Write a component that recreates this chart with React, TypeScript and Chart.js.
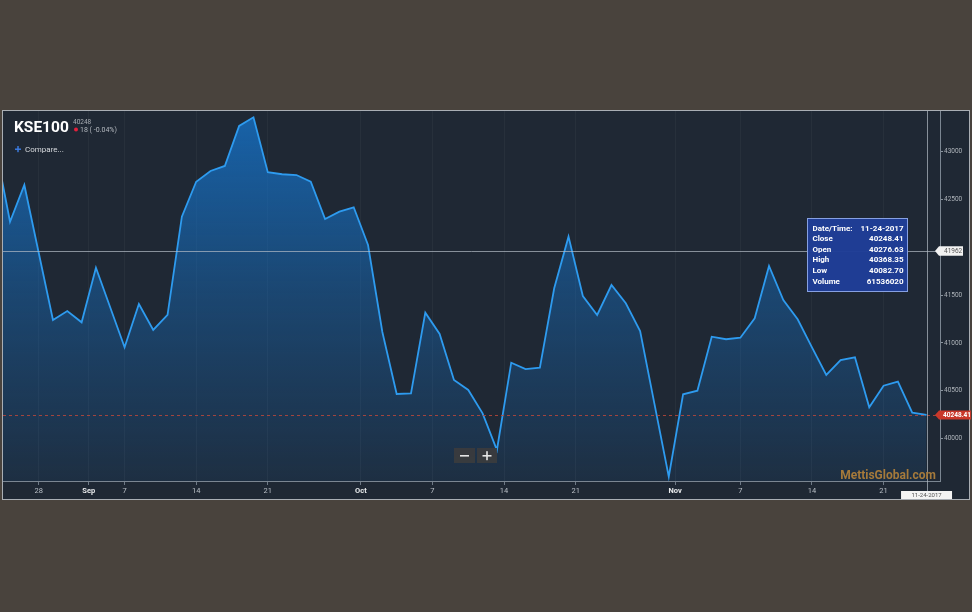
import React, { useEffect, useRef } from "react";
import { Chart, registerables } from "chart.js";

Chart.register(...registerables);

// KSE100 daily close, trading-day index -1 .. 64 (first point is partly outside the view)
const closeValues: number[] = [
  43040,
  42267, 42651, 41946, 41240, 41334, 41216, 41787, 41371, 40955, 41408,
  41136, 41293, 42320, 42685, 42797, 42850, 43268, 43358, 42784, 42763,
  42755, 42685, 42296, 42372, 42418, 42024, 41115, 40467, 40474, 41317,
  41094, 40613, 40509, 40265, 39882, 40794, 40728, 40742, 41572, 42111,
  41491, 41293, 41606, 41415, 41125, 40364, 39603, 40464, 40502, 41066,
  41039, 41055, 41258, 41805, 41449, 41248, 40955, 40666, 40822, 40851,
  40328, 40554, 40596, 40272, 40248.41,
];

// x tick positions (in trading-day index) and their labels
const tickPositions: number[] = [2, 5.5, 8, 13, 18, 24.5, 29.5, 34.5, 39.5, 46.45, 51, 56, 61];
const tickLabels: string[] = ["28", "Sep", "7", "14", "21", "Oct", "7", "14", "21", "Nov", "7", "14", "21"];
const monthLabels: string[] = ["Sep", "Oct", "Nov"];

// y ticks
const yTickValues: number[] = [40000, 40500, 41000, 41500, 42000, 42500, 43000];

const xMin = -0.49;
const xMax = 64.94;
const yMin = 39558;
const yMax = 43424;

const crosshairValue = 41962;
const lastClose = 40248.41;
const seriesName = "KSE100";
const headerPrice = "40248";
const headerChange = "18 ( -0.04%)";
const selectedDate = "11-24-2017";
const tooltipRows: [string, string][] = [
  ["Date/Time:", "11-24-2017"],
  ["Close", "40248.41"],
  ["Open", "40276.63"],
  ["High", "40368.35"],
  ["Low", "40082.70"],
  ["Volume", "61536020"],
];
const watermark = "MettisGlobal.com";

const FONT = "Roboto, 'Noto Sans', Arial, sans-serif";

function flag(ctx: CanvasRenderingContext2D, x: number, y: number, w: number, h: number) {
  ctx.beginPath();
  ctx.moveTo(x, y);
  ctx.lineTo(x + 4, y - h / 2);
  ctx.lineTo(x + w, y - h / 2);
  ctx.lineTo(x + w, y + h / 2);
  ctx.lineTo(x + 4, y + h / 2);
  ctx.closePath();
}

const overlayPlugin = {
  id: "overlay",
  afterDatasetsDraw(chart: any) {
    const { ctx, chartArea: a, scales } = chart;
    const x = scales.x;
    const y = scales.y;
    const lastX = Math.round(x.getPixelForValue(closeValues.length - 2)) + 0.5;
    const lastY = Math.round(y.getPixelForValue(lastClose)) + 0.5;
    const hY = Math.round(y.getPixelForValue(crosshairValue)) + 0.5;
    ctx.save();
    // last price dashed line
    ctx.strokeStyle = "rgba(196,72,58,0.8)";
    ctx.lineWidth = 1;
    ctx.setLineDash([3, 3]);
    ctx.beginPath();
    ctx.moveTo(a.left, lastY);
    ctx.lineTo(a.right, lastY);
    ctx.stroke();
    ctx.setLineDash([]);
    // horizontal crosshair
    ctx.strokeStyle = "rgba(180,188,198,0.7)";
    ctx.beginPath();
    ctx.moveTo(a.left, hY);
    ctx.lineTo(a.right, hY);
    ctx.stroke();
    // vertical crosshair
    ctx.beginPath();
    ctx.moveTo(lastX, a.top);
    ctx.lineTo(lastX, 492);
    ctx.stroke();
    ctx.restore();
  },
  afterDraw(chart: any) {
    const { ctx, chartArea: a, scales } = chart;
    const x = scales.x;
    const y = scales.y;
    const lastX = x.getPixelForValue(closeValues.length - 2);
    const lastY = y.getPixelForValue(lastClose);
    const hY = y.getPixelForValue(crosshairValue);
    ctx.save();

    // white crosshair value flag
    ctx.fillStyle = "#f2f2f2";
    flag(ctx, a.right - 5, hY, 28, 9.5);
    ctx.fill();
    ctx.fillStyle = "#555";
    ctx.font = `6.5px ${FONT}`;
    ctx.textBaseline = "middle";
    ctx.textAlign = "left";
    ctx.fillText(String(crosshairValue), a.right + 4, hY + 0.5);

    // red last price flag
    ctx.fillStyle = "#c9382a";
    flag(ctx, a.right - 5, lastY, 36, 9);
    ctx.fill();
    ctx.fillStyle = "#ffffff";
    ctx.font = `bold 6.5px ${FONT}`;
    ctx.fillText(lastClose.toFixed(2), a.right + 3, lastY + 0.5);

    // date label under crosshair
    ctx.fillStyle = "#f4f4f4";
    ctx.fillRect(lastX - 25.5, 491, 51, 8);
    ctx.fillStyle = "#555";
    ctx.font = `6px ${FONT}`;
    ctx.textAlign = "center";
    ctx.fillText(selectedDate, lastX, 495.5);

    // tooltip
    const tx = Math.round(lastX - 120) + 0.5;
    const ty = 218.5;
    ctx.fillStyle = "rgba(31,62,152,0.97)";
    ctx.fillRect(tx, ty, 100, 73);
    ctx.strokeStyle = "#86a0e2";
    ctx.lineWidth = 1;
    ctx.strokeRect(tx, ty, 100, 73);
    ctx.fillStyle = "#ffffff";
    ctx.font = `bold 8px ${FONT}`;
    tooltipRows.forEach(([k, v], i) => {
      const cy = 228.5 + i * 10.6;
      ctx.textAlign = "left";
      ctx.fillText(k, tx + 5, cy);
      ctx.textAlign = "right";
      ctx.fillText(v, tx + 96, cy);
    });

    // header
    ctx.textAlign = "left";
    ctx.textBaseline = "alphabetic";
    ctx.fillStyle = "#ffffff";
    ctx.font = `bold 15.5px ${FONT}`;
    ctx.fillText(seriesName, 14, 132);
    ctx.fillStyle = "#a8adb3";
    ctx.font = `6.5px ${FONT}`;
    ctx.fillText(headerPrice, 73, 124);
    ctx.fillStyle = "#e5203c";
    ctx.beginPath();
    ctx.arc(76, 129.5, 2, 0, Math.PI * 2);
    ctx.fill();
    ctx.fillStyle = "#b4b9bf";
    ctx.font = `7px ${FONT}`;
    ctx.fillText(headerChange, 80, 132);

    // compare
    ctx.fillStyle = "#3d7ee6";
    ctx.fillRect(15, 148.5, 6, 1.4);
    ctx.fillRect(17.3, 146, 1.4, 6.2);
    ctx.fillStyle = "#d6d9dd";
    ctx.font = `8px ${FONT}`;
    ctx.textBaseline = "middle";
    ctx.fillText("Compare...", 25, 149.5);

    // zoom buttons
    ctx.fillStyle = "rgba(58,60,62,0.95)";
    ctx.fillRect(454, 448, 21, 15);
    ctx.fillRect(477, 448, 20, 15);
    ctx.fillStyle = "#e6e6e6";
    ctx.fillRect(460, 455, 9, 1.6);
    ctx.fillRect(482.5, 455, 9, 1.6);
    ctx.fillRect(486.2, 451.2, 1.6, 9);

    // watermark
    ctx.fillStyle = "#a57a3b";
    ctx.font = `bold 12px ${FONT}`;
    ctx.textAlign = "right";
    ctx.textBaseline = "alphabetic";
    ctx.fillText(watermark, 936, 478.5);

    ctx.restore();
  },
};

export default function App() {
  const ref = useRef<HTMLCanvasElement>(null);

  useEffect(() => {
    if (!ref.current) return;
    const points = closeValues.map((v, i) => ({ x: i - 1, y: v }));
    const chart = new Chart(ref.current, {
      type: "line",
      data: {
        datasets: [
          {
            label: seriesName,
            data: points,
            borderColor: "#2e9bef",
            borderWidth: 1.8,
            pointRadius: 0,
            tension: 0,
            fill: "start",
            backgroundColor: (c: any) => {
              const area = c.chart.chartArea;
              if (!area) return "rgba(22,112,196,0.4)";
              const g = c.chart.ctx.createLinearGradient(0, area.top, 0, area.bottom);
              g.addColorStop(0, "rgba(22,112,196,0.82)");
              g.addColorStop(0.5, "rgba(22,112,196,0.42)");
              g.addColorStop(1, "rgba(22,112,196,0.1)");
              return g;
            },
          },
        ],
      },
      options: {
        responsive: false,
        animation: false,
        layout: { padding: { left: 3, top: 111, right: 2, bottom: 113 } },
        plugins: { legend: { display: false }, tooltip: { enabled: false } },
        scales: {
          x: {
            type: "linear",
            min: xMin,
            max: xMax,
            afterBuildTicks: (scale: any) => {
              scale.ticks = tickPositions.map((v) => ({ value: v }));
            },
            afterFit: (scale: any) => {
              scale.height = 18;
            },
            ticks: {
              autoSkip: false,
              maxRotation: 0,
              padding: 2,
              callback: (_v: any, i: number) => tickLabels[i],
              color: (c: any) => (monthLabels.includes(tickLabels[c.index]) ? "#e8eaec" : "#b9bfc6"),
              font: (c: any) => ({
                family: FONT,
                size: 7.5,
                weight: monthLabels.includes(tickLabels[c.index]) ? "bold" : "normal",
              }),
            },
            grid: {
              color: "rgba(255,255,255,0.04)",
              tickColor: "#6e7986",
              tickLength: 4,
            },
            border: { display: true, color: "#7b8692", width: 1 },
          },
          y: {
            position: "right",
            min: yMin,
            max: yMax,
            afterBuildTicks: (scale: any) => {
              scale.ticks = yTickValues.map((v) => ({ value: v }));
            },
            afterFit: (scale: any) => {
              scale.width = 30;
            },
            ticks: {
              autoSkip: false,
              padding: 1,
              color: (c: any) =>
                Math.abs(yTickValues[c.index] - crosshairValue) < 120 ? "rgba(0,0,0,0)" : "#aeb4ba",
              font: { family: FONT, size: 6.5 },
              callback: (v: any) => String(v),
            },
            grid: {
              drawOnChartArea: false,
              tickColor: "#8a949e",
              tickLength: 3,
            },
            border: { display: true, color: "#7b8692", width: 1 },
          },
        },
      },
      plugins: [overlayPlugin],
    } as any);
    return () => chart.destroy();
  }, []);

  return (
    <div
      style={{
        position: "absolute",
        left: 0,
        top: 0,
        width: 972,
        height: 612,
        background: "#49433d",
        overflow: "hidden",
      }}
    >
      <div
        style={{
          position: "absolute",
          left: 2,
          top: 110,
          width: 968,
          height: 390,
          boxSizing: "border-box",
          border: "1px solid #a9aeb4",
          background: "#1f2834",
        }}
      />
      <canvas
        ref={ref}
        width={972}
        height={612}
        style={{ position: "absolute", left: 0, top: 0, width: 972, height: 612 }}
      />
    </div>
  );
}
